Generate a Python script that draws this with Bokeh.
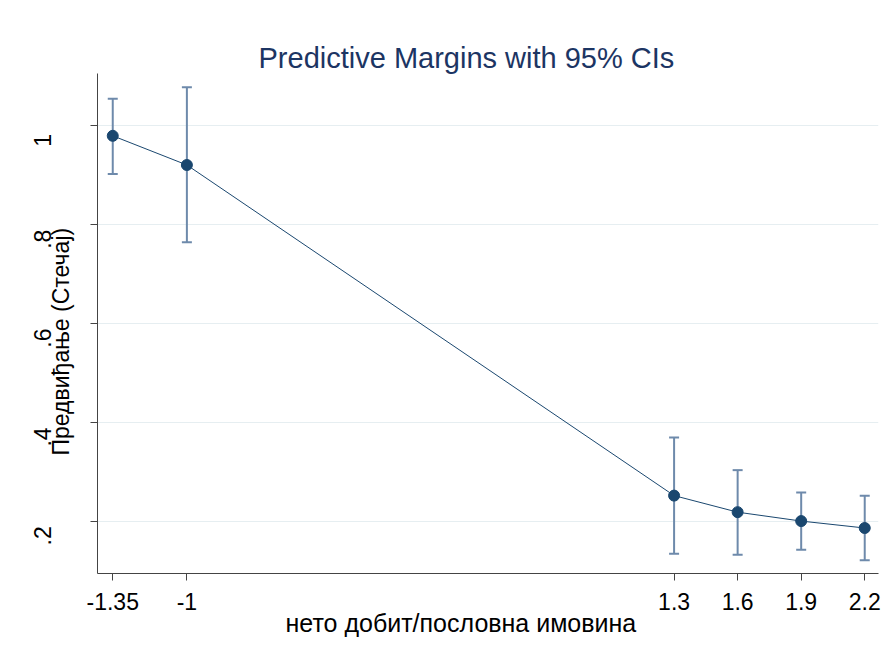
from bokeh.plotting import figure
from bokeh.models import (ColumnDataSource, Range1d, FixedTicker, LinearAxis, Title,
                          Whisker, TeeHead, CustomJSTickFormatter)
from bokeh.embed import file_html
from bokeh.resources import INLINE

# ---- data ----
x_vals = [-1.35, -1.0, 1.3, 1.6, 1.9, 2.2]
margin = [0.979, 0.920, 0.2515, 0.218, 0.200, 0.186]
ci_upper = [1.054, 1.077, 0.369, 0.303, 0.258, 0.251]
ci_lower = [0.902, 0.764, 0.134, 0.132, 0.142, 0.121]
x_tick_labels = ["-1.35", "-1", "1.3", "1.6", "1.9", "2.2"]
y_tick_vals = [0.2, 0.4, 0.6, 0.8, 1.0]
y_tick_labels = [".2", ".4", ".6", ".8", "1"]

title_text = "Predictive Margins with 95% CIs"
x_title = "нето добит/пословна имовина"
y_title = "Предвиђање (Стечај)"

FONT = "Liberation Sans"
NAVY = "#1a476f"
CI_COLOR = "#6e8aab"
TITLE_COLOR = "#1c3563"

y0, y1 = 0.094, 1.105
x0, x1 = -1.422, 2.265
label_shift = 0.03

src = ColumnDataSource(dict(x=x_vals, y=margin, upper=ci_upper, lower=ci_lower))

p = figure(width=890, height=650, output_backend="svg", toolbar_location=None,
           x_range=Range1d(x0, x1), y_range=Range1d(y0, y1),
           min_border_left=97, min_border_right=12, min_border_top=73, min_border_bottom=77)
p.extra_y_ranges = {"lab": Range1d(y0 + label_shift, y1 + label_shift)}
p.outline_line_color = None
p.background_fill_color = "white"
p.border_fill_color = "white"

# title
t = Title(text=title_text, text_font=FONT, text_font_size="29px", text_font_style="normal",
          text_color=TITLE_COLOR, align="left", offset=161, standoff=0)
p.title = t

# x axis
xa = p.xaxis[0]
xa.ticker = FixedTicker(ticks=x_vals)
xa.major_label_overrides = {v: s for v, s in zip(x_vals, x_tick_labels)}
xa.major_label_text_font = FONT
xa.major_label_text_font_size = "23px"
xa.major_label_text_color = "black"
xa.major_label_standoff = 12
xa.major_tick_out = 7
xa.major_tick_in = 0
xa.minor_tick_line_color = None
xa.axis_line_color = "#444444"
xa.major_tick_line_color = "#444444"

# y axis (ticks only)
ya = p.yaxis[0]
ya.ticker = FixedTicker(ticks=y_tick_vals)
ya.formatter = CustomJSTickFormatter(code="return ''")
ya.major_label_standoff = 0
ya.major_tick_out = 7
ya.major_tick_in = 0
ya.minor_tick_line_color = None
ya.axis_line_color = "#444444"
ya.major_tick_line_color = "#444444"

# y title between ticks and labels
p.add_layout(Title(text=y_title, text_font=FONT, text_font_size="23px", text_font_style="normal",
                   text_color="black", align="left", offset=118, standoff=34), "left")

# y tick labels (outer)
yb = LinearAxis(y_range_name="lab", ticker=FixedTicker(ticks=y_tick_vals))
yb.major_label_overrides = {v: s for v, s in zip(y_tick_vals, y_tick_labels)}
yb.major_label_orientation = "vertical"
yb.major_label_text_font = FONT
yb.major_label_text_font_size = "23px"
yb.major_label_text_color = "black"
yb.major_label_standoff = -29
yb.axis_line_color = None
yb.major_tick_line_color = None
yb.minor_tick_line_color = None
p.add_layout(yb, "left")

# x title
p.add_layout(Title(text=x_title, text_font=FONT, text_font_size="25px", text_font_style="normal",
                   text_color="black", align="left", offset=188, standoff=-8,
                   vertical_align="top"), "below")

# grid
p.xgrid.grid_line_color = None
p.ygrid.ticker = FixedTicker(ticks=y_tick_vals)
p.ygrid.grid_line_color = "#e6eef1"
p.ygrid.grid_line_width = 1

# marks
p.line("x", "y", source=src, line_color=NAVY, line_width=1)
w = Whisker(source=src, base="x", upper="upper", lower="lower", dimension="height",
            line_color=CI_COLOR, line_width=2,
            upper_head=TeeHead(size=10, line_color=CI_COLOR, line_width=2),
            lower_head=TeeHead(size=10, line_color=CI_COLOR, line_width=2))
p.add_layout(w)
p.scatter("x", "y", source=src, size=11, fill_color=NAVY, line_color=NAVY)

open("out.html", "w").write(file_html(p, INLINE))
